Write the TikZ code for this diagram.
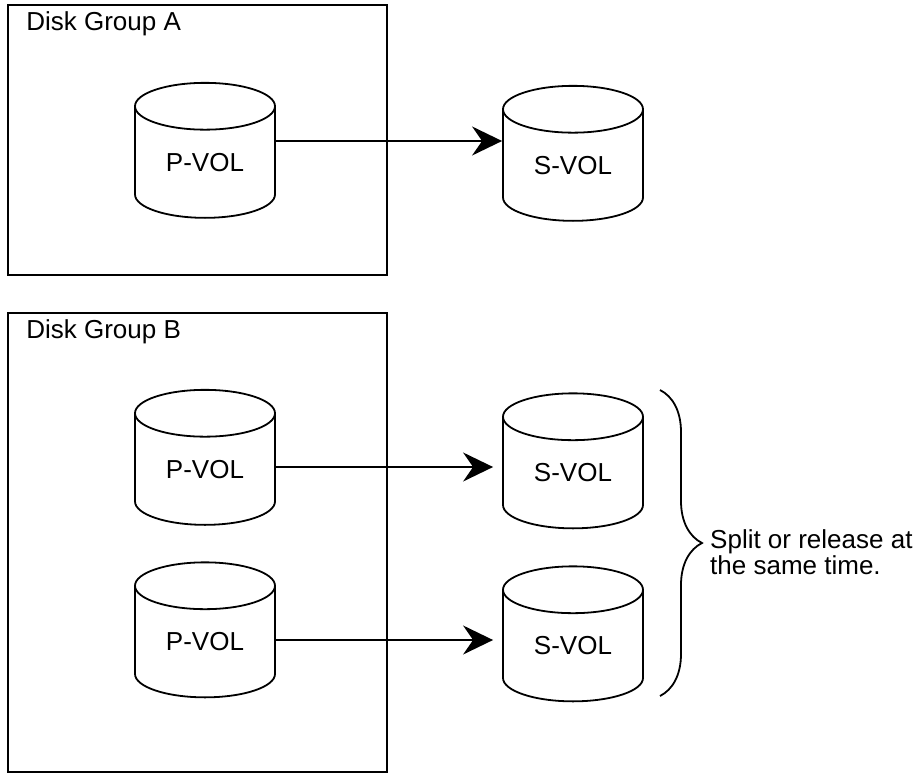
\documentclass[tikz,border=0pt]{standalone}
\usepackage{fontspec}
\setmainfont{Liberation Sans}
\usetikzlibrary{shapes.geometric,arrows.meta,positioning,decorations.pathreplacing}

\tikzset{
  vol/.style={draw, line width=1.8pt, cylinder, shape border rotate=90, aspect=0.6,
    minimum width=140pt, minimum height=135pt, inner sep=0pt},
  group/.style={draw, line width=1.8pt, inner sep=0pt},
  grouplbl/.style={anchor=base west, inner sep=0pt},
  flow/.style={line width=1.8pt, -{Stealth[length=30pt,width=29pt,inset=10pt]}},
}

\begin{document}
\begin{tikzpicture}[x=1pt,y=-1pt,font=\fontsize{26}{26}\selectfont]
  \useasboundingbox (0,0) rectangle (921,774);
  % disk group A
  \node[group, minimum width=379pt, minimum height=270pt] (ga) at (197.5,140) {};
  \node[grouplbl] (la) at ([xshift=19pt,yshift=-26pt]ga.north west) {Disk Group A};
  \node[vol] (pa) at (205,162.5) {P-VOL};
  \node[vol] (sa) at (573,165.5) {S-VOL};
  \draw[flow] (pa.east) ++(0,-21.5) coordinate (fa) -- (fa -| sa.west);

  % disk group B
  \node[group, minimum width=379pt, minimum height=459pt] (gb) at (197.5,542.5) {};
  \node[grouplbl] (lb) at ([xshift=19pt,yshift=-26pt]gb.north west) {Disk Group B};
  \node[vol] (pb1) at (205,469.5) {P-VOL};
  \node[vol] (pb2) at (205,642) {P-VOL};
  \node[vol] (sb1) at (573,473) {S-VOL};
  \node[vol] (sb2) at (573,646) {S-VOL};
  \draw[flow, shorten >=9pt] (pb1.east) ++(0,-2.5) coordinate (fb1) -- (fb1 -| sb1.west);
  \draw[flow, shorten >=9pt] (pb2.east) ++(0,-2) coordinate (fb2) -- (fb2 -| sb2.west);

  % brace + note
  \coordinate (bt) at (660,390);
  \coordinate (bb) at (660,696);
  \draw[line width=1.8pt, decorate, decoration={brace, amplitude=42pt}] (bt) -- (bb);
  \node[anchor=west, align=left, inner sep=0pt] (note) at (710,552) {Split or release at\\the same time.};
\end{tikzpicture}
\end{document}
